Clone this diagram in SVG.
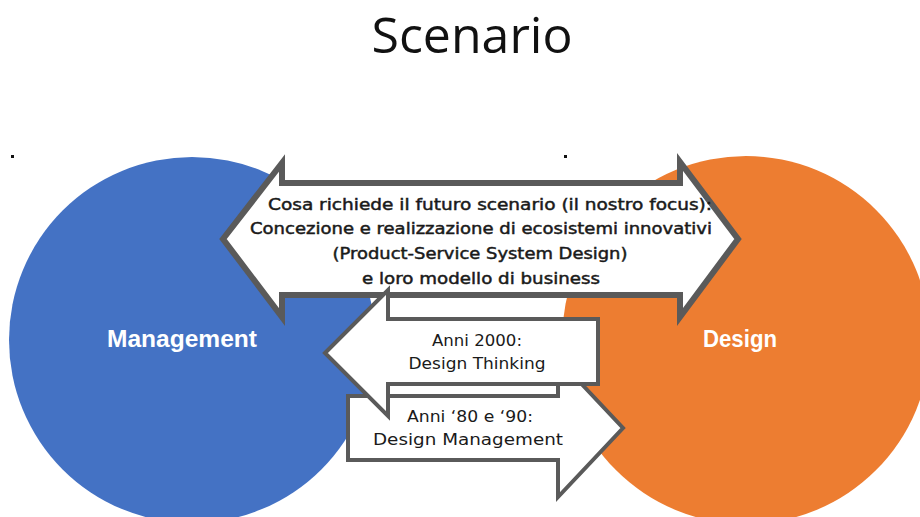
<svg xmlns="http://www.w3.org/2000/svg" width="920" height="517" viewBox="0 0 920 517">
<style>
.arrow{fill:#ffffff;stroke:#5a5a5a;stroke-linejoin:miter}
.big{stroke-width:6}
.small{stroke-width:4}
.t{font-family:"DejaVu Sans","Liberation Sans",sans-serif;fill:#1a1a1a;text-anchor:middle}
.bt{font-size:15px;stroke:#1a1a1a;stroke-width:0.45}
.st{font-size:15px}
.lab{font-family:"Liberation Sans",Arial,sans-serif;font-weight:bold;font-size:24px;fill:#ffffff;text-anchor:middle}
</style>
<rect width="920" height="517" fill="#ffffff"/>
<text x="472" y="53" font-family="'Open Sans','Liberation Sans',sans-serif" font-size="50" fill="#111111" text-anchor="middle">Scenario</text>
<rect x="11" y="155" width="3" height="3" fill="#111"/>
<rect x="564" y="155" width="3" height="3" fill="#111"/>
<g id="management">
<circle cx="192" cy="340" r="183" fill="#4472C4"/>
<text class="lab" x="182" y="347" textLength="150" lengthAdjust="spacingAndGlyphs">Management</text>
</g>
<g id="design">
<circle cx="746" cy="340" r="184" fill="#ED7D31"/>
<text class="lab" x="740" y="347" textLength="74" lengthAdjust="spacingAndGlyphs">Design</text>
</g>
<g id="connectors">
<g id="futuro">
<polygon class="arrow big" points="223,239 282,163 282,183 680,183 680,162 738,239 680,317 680,295 282,295 282,317"/>
<text class="t bt" x="490" y="210" textLength="444" lengthAdjust="spacingAndGlyphs">Cosa richiede il futuro scenario (il nostro focus):</text>
<text class="t bt" x="481" y="234" textLength="462" lengthAdjust="spacingAndGlyphs">Concezione e realizzazione di ecosistemi innovativi</text>
<text class="t bt" x="480" y="259" textLength="295" lengthAdjust="spacingAndGlyphs">(Product-Service System Design)</text>
<text class="t bt" x="481" y="284" textLength="238" lengthAdjust="spacingAndGlyphs">e loro modello di business</text>
</g>
<g id="anni80">
<polygon class="arrow small" points="348,396 558,396 558,359 623,428 558,497 558,460 348,460"/>
<text class="t st" x="470" y="422" textLength="126" lengthAdjust="spacingAndGlyphs">Anni ‘80 e ‘90:</text>
<text class="t st" x="468" y="445" textLength="190" lengthAdjust="spacingAndGlyphs">Design Management</text>
</g>
<g id="anni2000">
<polygon class="arrow small" points="325,353 388,290 388,319 598,319 598,384 388,384 388,416"/>
<text class="t st" x="477" y="346" textLength="90" lengthAdjust="spacingAndGlyphs">Anni 2000:</text>
<text class="t st" x="477" y="369" textLength="137" lengthAdjust="spacingAndGlyphs">Design Thinking</text>
</g>
</g>
</svg>
